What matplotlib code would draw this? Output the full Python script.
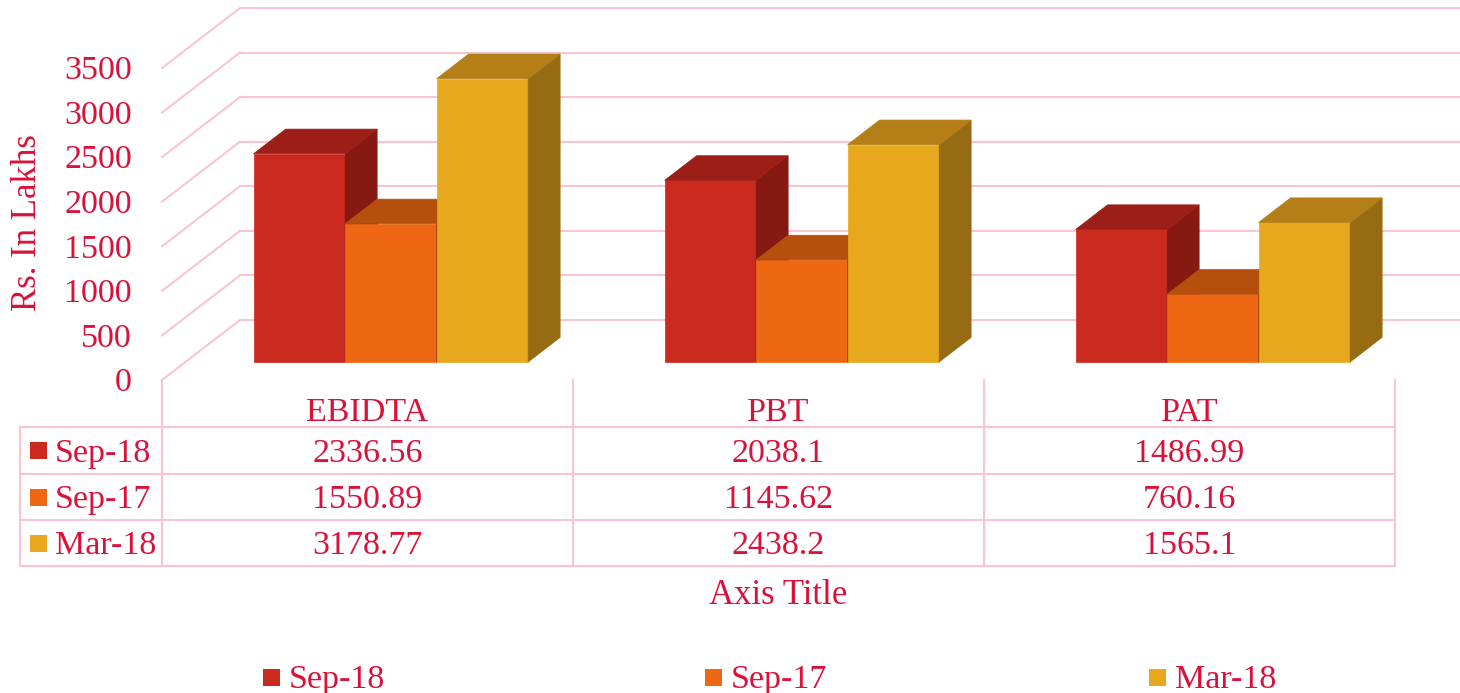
import matplotlib.pyplot as plt
from matplotlib.patches import Polygon, Rectangle

categories = ['EBIDTA', 'PBT', 'PAT']
series = ['Sep-18', 'Sep-17', 'Mar-18']
sep18 = [2336.56, 2038.1, 1486.99]
sep17 = [1550.89, 1145.62, 760.16]
mar18 = [3178.77, 2438.2, 1565.1]
yticks = [0, 500, 1000, 1500, 2000, 2500, 3000, 3500]

front_col = ['#CB2A1F', '#EE6813', '#E8A81E']
top_col = ['#9C1F17', '#B54F0E', '#B47F16']
side_col = ['#861912', '#9B440C', '#976B12']
txt = '#D8123A'
grid = '#F9C6CF'

plt.rcParams['font.family'] = ['Liberation Serif', 'DejaVu Serif']

W, H = 1460, 693
x0_px, cat_px = 162, 411          # front plane: x=-0.5 at 162 px, 411 px per category
y0_px, k = 380, 312 / 3500        # value 0 at 380 px, px per unit

DX = 78 / cat_px                  # depth offset of the back wall
DY = 60 / k
F = 0.3                           # bar front face depth
D = 0.41                          # bar depth
bw = 91.5 / cat_px                # bar width
fs = 24.5
dy_txt = 3                        # text sits a bit lower than bbox centre


def vy(ypx):
    # pixel row -> data value
    return (y0_px - ypx) / k


def vx(xpx):
    return -0.5 + (xpx - x0_px) / cat_px


fig = plt.figure(figsize=(W / 100, H / 100), dpi=100)
ax = fig.add_axes([0, 0, 1, 1])
ax.set_xlim(vx(0), vx(W))
ax.set_ylim(vy(H), vy(0))
ax.axis('off')

# walls
for v in yticks:
    ax.plot([-0.5, -0.5 + DX], [v, v + DY], color=grid, lw=1.5, zorder=1)
    ax.plot([-0.5 + DX, 2.5 + DX], [v + DY, v + DY], color=grid, lw=1.5, zorder=1)
    ax.text(vx(132), v - dy_txt / k, str(v), ha='right', va='center', color=txt, fontsize=fs)

fig.text(28 / W, 1 - 223 / H, 'Rs. In Lakhs', rotation=90, ha='center', va='center',
         color=txt, fontsize=25)

# bars
values = [sep18, sep17, mar18]
for i in range(len(categories)):
    for j, vals in enumerate(values):
        v = vals[i]
        xl = i - 1.5 * bw + j * bw + F * DX
        b = F * DY
        front = [(xl, b), (xl + bw, b), (xl + bw, b + v), (xl, b + v)]
        side = [(xl + bw, b), (xl + bw + D * DX, b + D * DY),
                (xl + bw + D * DX, b + v + D * DY), (xl + bw, b + v)]
        top = [(xl, b + v), (xl + bw, b + v), (xl + bw + D * DX, b + v + D * DY),
               (xl + D * DX, b + v + D * DY)]
        for poly, c in [(front, front_col[j]), (side, side_col[j]), (top, top_col[j])]:
            ax.add_patch(Polygon(poly, closed=True, facecolor=c, edgecolor=c, lw=0.5, zorder=2))

# data table
rows_px = [427, 474, 520, 566]
for xb in [-0.5, 0.5, 1.5, 2.5]:
    ax.plot([xb, xb], [vy(380), vy(566)], color=grid, lw=1.5, zorder=1)
ax.plot([vx(20), vx(20)], [vy(427), vy(566)], color=grid, lw=1.5, zorder=1)
for r in rows_px:
    ax.plot([vx(20), 2.5], [vy(r), vy(r)], color=grid, lw=1.5, zorder=1)

for i, c in enumerate(categories):
    ax.text(i, vy(410 + dy_txt), c, ha='center', va='center', color=txt, fontsize=fs)

for j, (name, vals) in enumerate(zip(series, values)):
    yc = (rows_px[j] + rows_px[j + 1]) / 2
    ax.add_patch(Rectangle((vx(30), vy(yc + 8.5)), 17 / cat_px, 17 / k,
                           facecolor=front_col[j], edgecolor='none'))
    ax.text(vx(55), vy(yc + dy_txt), name, ha='left', va='center', color=txt, fontsize=fs)
    for i, v in enumerate(vals):
        ax.text(i, vy(yc + dy_txt), f'{v:g}', ha='center', va='center', color=txt, fontsize=fs)

ax.text(1, vy(592 + dy_txt), 'Axis Title', ha='center', va='center', color=txt, fontsize=25)

# legend
leg_x = [263, 705, 1149]
for j, name in enumerate(series):
    ax.add_patch(Rectangle((vx(leg_x[j]), vy(677 + 8.5)), 17 / cat_px, 17 / k,
                           facecolor=front_col[j], edgecolor='none'))
    ax.text(vx(leg_x[j] + 26), vy(677 + dy_txt), name, ha='left', va='center', color=txt, fontsize=fs)

fig.savefig('out.png', dpi=100)
